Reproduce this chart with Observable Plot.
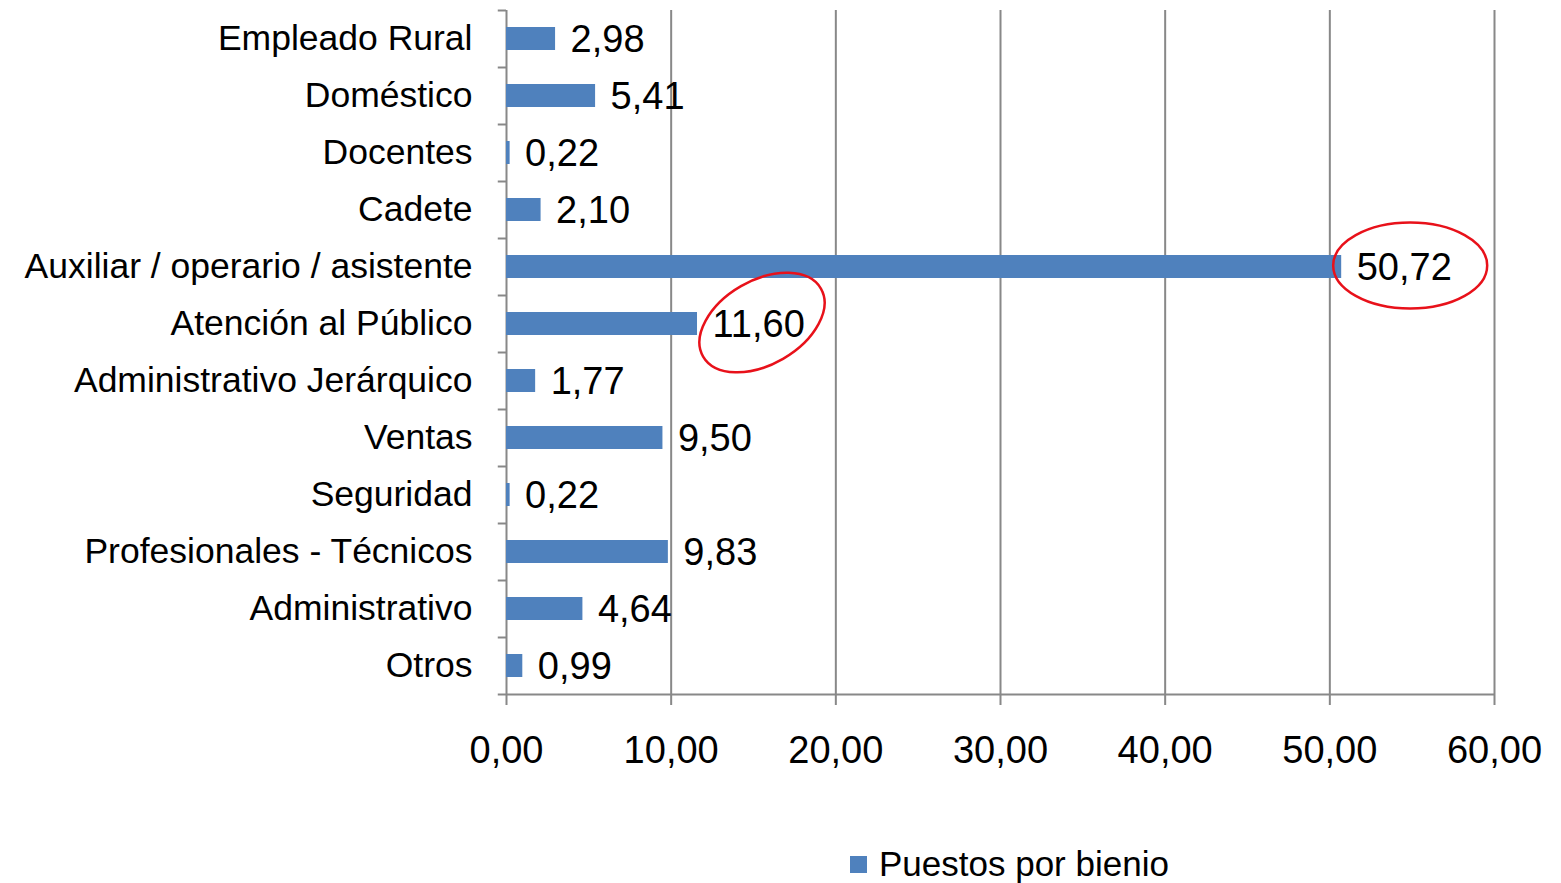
<!DOCTYPE html>
<html>
<head>
<meta charset="utf-8">
<script src="https://cdn.jsdelivr.net/npm/d3@7"></script>
<script src="https://cdn.jsdelivr.net/npm/@observablehq/plot@0.6"></script>
<style>
  html, body { margin: 0; padding: 0; background: #fff; }
  body { width: 1561px; height: 883px; position: relative; overflow: hidden; font-family: "Liberation Sans", Arial, sans-serif; }
  #chart { position: absolute; left: 0; top: 0; }
  #legend { position: absolute; left: 850px; top: 844px; display: flex; align-items: center; font-size: 35px; color: #000; }
  #legend .sw { width: 17px; height: 17px; background: #4f81bd; margin-right: 12px; }
</style>
</head>
<body>
<div id="chart"></div>
<div id="legend"><span class="sw"></span><span>Puestos por bienio</span></div>
<script>
const categories = [
  "Empleado Rural", "Doméstico", "Docentes", "Cadete",
  "Auxiliar / operario / asistente", "Atención al Público",
  "Administrativo Jerárquico", "Ventas", "Seguridad",
  "Profesionales - Técnicos", "Administrativo", "Otros"
];
const values = [2.98, 5.41, 0.22, 2.10, 50.72, 11.60, 1.77, 9.50, 0.22, 9.83, 4.64, 0.99];
const xTicks = [0, 10, 20, 30, 40, 50, 60];
const highlighted = ["Auxiliar / operario / asistente", "Atención al Público"];

const data = categories.map((c, i) => ({category: c, value: values[i]}));
const fmt = v => v.toFixed(2).replace(".", ",");
const half = 28.5;
const font = "Liberation Sans, Arial, sans-serif";

const chart = Plot.plot({
  width: 1561,
  height: 800,
  marginLeft: 506,
  marginRight: 67,
  marginTop: 10,
  marginBottom: 106,
  style: {fontFamily: font, fontSize: "35px", color: "#000", background: "transparent"},
  x: {domain: [0, 60], axis: null},
  y: {domain: categories, axis: null, paddingInner: 0.6, paddingOuter: 0.3},
  marks: [
    Plot.ruleX(xTicks, {x: d => d, stroke: "#888", strokeWidth: 2, insetBottom: -11}),
    Plot.ruleY([categories[categories.length - 1]], {y: d => d, x1: 0, x2: 60, dy: half, stroke: "#888", strokeWidth: 2}),
    Plot.ruleY(categories, {y: d => d, x1: -0.5, x2: 0, dy: half, stroke: "#888", strokeWidth: 2}),
    Plot.ruleY([categories[0]], {y: d => d, x1: -0.5, x2: 0, dy: -half, stroke: "#888", strokeWidth: 2}),
    Plot.barX(data, {x: "value", y: "category", fill: "#4f81bd"}),
    Plot.text(data, {x: "value", y: "category", text: d => fmt(d.value), textAnchor: "start", dx: 15, dy: 1, fontSize: 38, fill: "#000"}),
    Plot.text(categories, {y: d => d, text: d => d, frameAnchor: "left", textAnchor: "end", dx: -34, fontSize: 35.5, fill: "#000"}),
    Plot.text(xTicks, {x: d => d, text: d => fmt(d), frameAnchor: "bottom", lineAnchor: "middle", dy: 56, fontSize: 38, fill: "#000"})
  ]
});
document.getElementById("chart").appendChild(chart);

// Red ellipses around the highlighted labels, positioned through the plot's scales
const xs = chart.scale("x"), ys = chart.scale("y");
const xApply = xs.apply ? xs.apply : d3.scaleLinear(xs.domain, xs.range);
const yApply = ys.apply ? ys.apply : d3.scaleBand(ys.domain, ys.range).paddingInner(0.6).paddingOuter(0.3);
const bw = ys.bandwidth != null ? ys.bandwidth : yApply.bandwidth();
const ellipseSpecs = [
  {category: highlighted[0], dx: 69, dy: -1, rx: 77, ry: 43, rot: 0},
  {category: highlighted[1], dx: 65, dy: -1, rx: 68, ry: 42, rot: -30}
];
const svg = d3.select(chart.tagName.toLowerCase() === "svg" ? chart : chart.querySelector("svg"));
for (const e of ellipseSpecs) {
  const v = values[categories.indexOf(e.category)];
  const cx = xApply(v) + e.dx;
  const cy = yApply(e.category) + bw / 2 + e.dy;
  svg.append("ellipse")
    .attr("cx", cx).attr("cy", cy).attr("rx", e.rx).attr("ry", e.ry)
    .attr("transform", `rotate(${e.rot},${cx},${cy})`)
    .attr("fill", "none").attr("stroke", "#e8111a").attr("stroke-width", 2.5);
}
</script>
</body>
</html>
